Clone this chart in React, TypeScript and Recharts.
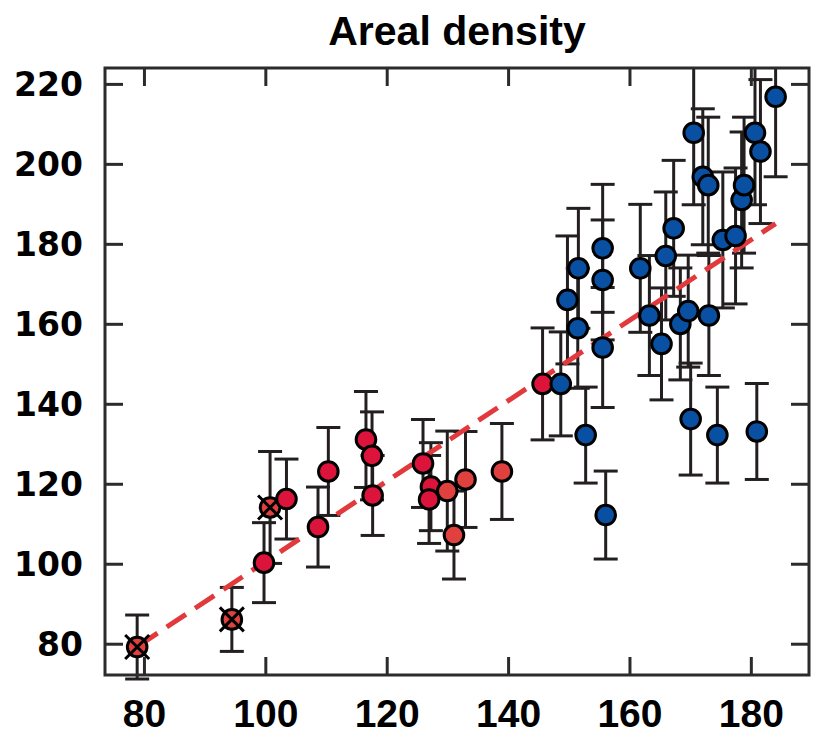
import React from "react";
import { ScatterChart, Scatter, XAxis, YAxis, ErrorBar } from "recharts";

// crimson red points
const redX = [99.7, 103.4, 108.6, 110.3, 116.5, 117.5, 117.6, 125.9, 127.2, 126.9, 145.6];
const redY = [100.4, 116.3, 109.3, 123.2, 131.2, 127.1, 117.2, 125.2, 119.4, 116.2, 145.1];
const redErr = [10, 10, 10, 11, 12, 11, 10, 11, 11, 11, 14];

// lighter red points
const lightX = [129.9, 131.0, 132.9, 138.9];
const lightY = [118.3, 107.3, 121.2, 123.2];
const lightErr = [15, 11, 12, 12];

// crossed-out points
const crossX = [78.8, 94.4, 100.7];
const crossY = [79.3, 86.2, 114.2];
const crossErr = [8, 8, 14];

// blue points
const blueX = [
  148.6, 149.7, 151.4, 151.5, 152.7, 155.5, 155.5, 155.5, 156.0, 161.7,
  163.2, 165.2, 165.9, 167.2, 168.3, 169.6, 170.0, 170.5, 172.0, 172.9,
  173.0, 174.4, 175.3, 177.4, 178.4, 178.8, 180.6, 180.9, 181.5, 184.0,
];
const blueY = [
  145.1, 166.1, 159.0, 174.0, 132.3, 179.0, 171.1, 154.2, 112.3, 174.0,
  162.2, 155.1, 177.1, 184.0, 160.1, 163.3, 136.3, 207.9, 196.9, 194.8,
  162.2, 132.3, 181.1, 182.1, 191.1, 194.8, 207.9, 133.2, 203.2, 216.9,
];
const blueErr = [
  13, 16, 15, 15, 12, 16, 15, 15, 11, 16,
  15, 14, 16, 17, 14, 14, 14, 18, 17, 17,
  15, 12, 17, 17, 17, 17, 18, 12, 18, 20,
];

// dashed fit line
const fitX = [79, 184];
const fitY = [79.6, 185.2];

const xTicks = [80, 100, 120, 140, 160, 180];
const yTicks = [80, 100, 120, 140, 160, 180, 200, 220];

const toPts = (xs: number[], ys: number[], errs?: number[]) =>
  xs.map((x, i) => ({ x, y: ys[i], err: errs ? errs[i] : 0 }));

const FRAME = "#2b2b2b";
const BAR = "#231f20";
const TICK = 18;

// plot box
const LEFT = 105;
const RIGHT = 809;
const TOP = 68;
const BOTTOM = 675;

const marker = (fill: string, crossed = false) => (props: any) => {
  const { cx, cy } = props;
  return (
    <g>
      <circle cx={cx} cy={cy} r={9.8} fill={fill} stroke="#000" strokeWidth={3} />
      {crossed && (
        <path
          d={`M${cx - 12},${cy - 12}L${cx + 12},${cy + 12}M${cx - 12},${cy + 12}L${cx + 12},${cy - 12}`}
          stroke="#000"
          strokeWidth={3}
        />
      )}
    </g>
  );
};

const noShape = () => <g />;

// x ticks: inward marks on bottom and top edges, label below
const BottomTick = (props: any) => {
  const { x, payload } = props;
  return (
    <g>
      <line x1={x} x2={x} y1={BOTTOM} y2={BOTTOM - TICK} stroke={FRAME} strokeWidth={3} />
      <line x1={x} x2={x} y1={TOP} y2={TOP + TICK} stroke={FRAME} strokeWidth={3} />
      <text x={x} y={727} textAnchor="middle" fontFamily="'Liberation Sans', Arial, sans-serif" fontWeight="bold" fontSize={39} fill="#000">
        {payload.value}
      </text>
    </g>
  );
};

// y ticks: inward marks on left and right edges, label left
const LeftTick = (props: any) => {
  const { y, payload } = props;
  return (
    <g>
      <line x1={LEFT} x2={LEFT + TICK} y1={y} y2={y} stroke={FRAME} strokeWidth={3} />
      <line x1={RIGHT} x2={RIGHT - TICK} y1={y} y2={y} stroke={FRAME} strokeWidth={3} />
      <text x={83} y={y + 12} textAnchor="end" fontFamily="'DejaVu Sans', sans-serif" fontWeight="bold" fontSize={33} fill="#000">
        {payload.value}
      </text>
    </g>
  );
};

const xDomain = [73.5, 189.5];
const yDomain = [72.3, 224.1];

export default function App() {
  return (
    <div style={{ position: "absolute", left: 0, top: 0, width: 814, height: 743, background: "#fff" }}>
      <div style={{ position: "absolute", left: 0, top: 0 }}>
        <ScatterChart width={814} height={743} margin={{ top: TOP, right: 814 - RIGHT, bottom: 0, left: 15 }}>
          <XAxis
            type="number"
            dataKey="x"
            domain={xDomain}
            allowDataOverflow
            ticks={xTicks}
            height={743 - BOTTOM}
            tickLine={false}
            axisLine={false}
            tick={<BottomTick />}
          />
          <YAxis
            type="number"
            dataKey="y"
            domain={yDomain}
            allowDataOverflow
            ticks={yTicks}
            width={LEFT - 15}
            tickLine={false}
            axisLine={false}
            tick={<LeftTick />}
          />
          <Scatter
            data={toPts(fitX, fitY)}
            line={{ stroke: "#e2393d", strokeWidth: 5, strokeDasharray: "23 11" }}
            shape={noShape}
            isAnimationActive={false}
          />
          <Scatter data={toPts(crossX, crossY, crossErr)} shape={marker("#e0403e", true)} isAnimationActive={false}>
            <ErrorBar dataKey="err" direction="y" width={12} stroke={BAR} strokeWidth={3} isAnimationActive={false} />
          </Scatter>
          <Scatter data={toPts(redX, redY, redErr)} shape={marker("#dc143c")} isAnimationActive={false}>
            <ErrorBar dataKey="err" direction="y" width={12} stroke={BAR} strokeWidth={3} isAnimationActive={false} />
          </Scatter>
          <Scatter data={toPts(lightX, lightY, lightErr)} shape={marker("#e0403e")} isAnimationActive={false}>
            <ErrorBar dataKey="err" direction="y" width={12} stroke={BAR} strokeWidth={3} isAnimationActive={false} />
          </Scatter>
          <Scatter data={toPts(blueX, blueY, blueErr)} shape={marker("#0a50a2")} isAnimationActive={false}>
            <ErrorBar dataKey="err" direction="y" width={12} stroke={BAR} strokeWidth={3} isAnimationActive={false} />
          </Scatter>
        </ScatterChart>
      </div>
      {/* mask error bars above the box, frame, title */}
      <svg width={814} height={743} style={{ position: "absolute", left: 0, top: 0, pointerEvents: "none" }}>
        <rect x={LEFT - 2} y={0} width={RIGHT - LEFT + 4} height={TOP} fill="#fff" />
        <rect x={LEFT} y={TOP} width={RIGHT - LEFT} height={BOTTOM - TOP} fill="none" stroke={FRAME} strokeWidth={3} />
        <text x={457} y={45} textAnchor="middle" fontFamily="'Liberation Sans', Arial, sans-serif" fontWeight="bold" fontSize={41} fill="#000">
          Areal density
        </text>
      </svg>
    </div>
  );
}
